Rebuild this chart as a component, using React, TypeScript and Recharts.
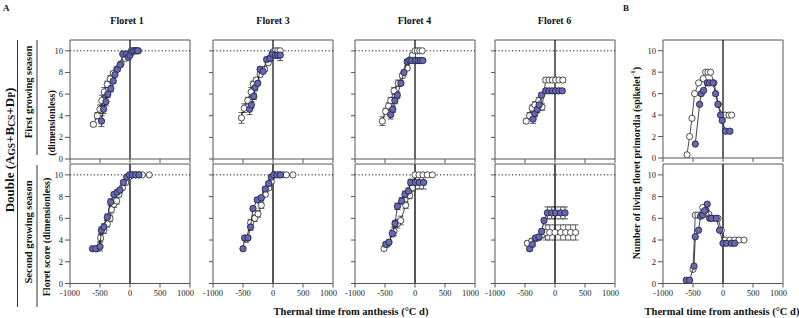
import React from 'react';
import { ScatterChart, Scatter, XAxis, YAxis, ReferenceLine, ErrorBar } from 'recharts';

type Pt = [number, number, number?];

// x: thermal time from anthesis (°C d), y: value, third: error (±)
const f1TopOpen: Pt[] = [[-610,3.2,0.2],[-545,4.0,0.3],[-500,4.6,0.4],[-470,5.4,0.5],[-430,6.2,0.4],[-380,6.9,0.3],[-330,7.4,0.3],[-280,7.9,0.2],[-220,8.3,0.2],[-150,8.8,0.2],[-80,9.3,0.2],[-20,9.7,0.1],[20,10,0],[60,10,0],[100,10,0],[140,10,0]];
const f1TopFilled: Pt[] = [[-475,3.5,0.5],[-440,4.6,0.4],[-400,5.3,0.4],[-370,6.0,0.3],[-320,6.5,0.3],[-280,7.2,0.2],[-250,7.8,0.2],[-210,8.3,0.2],[-165,8.7,0.1],[-120,9.7,0.1],[-60,9.7,0.1],[-30,9.4,0.2],[0,9.6,0.1],[30,9.9,0],[60,10,0],[100,10,0],[130,10,0]];
const f3TopOpen: Pt[] = [[-525,3.8,0.5],[-480,4.7,0.4],[-420,5.4,0.3],[-365,6.2,0.4],[-330,6.9,0.3],[-280,7.3,0.2],[-215,7.8,0.2],[-140,8.3,0.2],[-80,8.9,0.2],[-40,9.3,0.2],[0,9.9,0.2],[40,10,0],[80,10,0.2],[120,10,0]];
const f3TopFilled: Pt[] = [[-390,4.6,0.5],[-360,5.0,0.3],[-320,5.8,0.3],[-300,6.6,0.3],[-255,7.0,0.2],[-215,8.3,0.2],[-165,8.1,0.2],[-105,9.2,0.2],[-50,9.3,0.2],[-15,9.7,0.1],[40,9.6,0.2],[80,9.6,0.3],[120,9.6,0.5]];
const f4TopOpen: Pt[] = [[-545,3.5,0.4],[-490,4.4,0.3],[-440,4.9,0.3],[-405,5.4,0.3],[-350,6.3,0.3],[-280,7.0,0.3],[-210,7.7,0.2],[-130,8.4,0.2],[-75,9.2,0.2],[-40,9.6,0.2],[0,10,0],[40,10,0],[80,10,0],[120,10,0]];
const f4TopFilled: Pt[] = [[-405,4.1,0.4],[-370,4.6,0.3],[-335,5.4,0.3],[-295,5.9,0.3],[-235,7.0,0.2],[-185,8.0,0.2],[-130,9.0,0.2],[-90,9.1,0.2],[-55,9.1,0.1],[5,9.1,0],[50,9.1,0],[90,9.1,0],[130,9.1,0]];
const f6TopOpen: Pt[] = [[-480,3.5,0.2],[-425,4.0,0.3],[-380,4.7,0.3],[-335,5.0,0.3],[-270,5.4,0.3],[-215,4.8,0.3],[-155,7.3,0.2],[-100,7.3,0.2],[-45,7.3,0.2],[10,7.3,0.2],[65,7.3,0.2],[130,7.3,0.2]];
const f6TopFilled: Pt[] = [[-365,3.7,0.4],[-335,4.2,0.3],[-295,4.6,0.3],[-265,5.0,0.3],[-225,5.9,0.2],[-155,6.3,0.2],[-100,6.3,0.2],[-45,6.3,0.2],[10,6.3,0.2],[65,6.3,0.2],[120,6.3,0.2]];

const f1BotOpen: Pt[] = [[-545,3.2,0],[-490,4.2,0.3],[-435,4.9,0.3],[-378,5.5,0.3],[-333,6.0,0.3],[-310,6.8,0.3],[-268,7.3,0.3],[-222,7.6,0.3],[-183,8.2,0.2],[-127,8.8,0.2],[-72,9.3,0.2],[-17,9.8,0.1],[40,10,0],[95,10,0],[150,10,0],[205,10,0],[320,10,0]];
const f1BotFilled: Pt[] = [[-625,3.2,0],[-570,3.2,0],[-500,3.4,0.4],[-478,4.9,0.3],[-435,5.2,0.3],[-378,6.1,0.3],[-322,7.5,0.3],[-268,8.2,0.2],[-212,8.4,0.2],[-168,8.6,0.2],[-110,9.3,0.2],[-55,9.8,0.1],[-10,10,0],[40,10,0],[95,10,0],[150,10,0]];
const f3BotOpen: Pt[] = [[-445,4.1,0.3],[-373,5.6,0.3],[-305,6.0,0.3],[-250,6.4,0.3],[-195,7.2,0.3],[-128,8.2,0.2],[-72,8.8,0.2],[-28,9.4,0.2],[28,10,0],[110,10,0],[170,10,0],[222,10,0],[333,10,0]];
const f3BotFilled: Pt[] = [[-500,3.2,0],[-472,4.2,0.2],[-417,4.2,0.2],[-373,5.2,0.3],[-333,6.9,0.2],[-262,7.7,0.2],[-195,7.9,0.2],[-128,8.7,0.2],[-72,9.2,0.2],[-28,9.8,0.1],[12,10,0],[67,10,0],[122,10,0]];
const f4BotOpen: Pt[] = [[-517,3.2,0],[-460,3.6,0.2],[-350,4.8,0.4],[-293,5.5,0.4],[-238,5.8,0.4],[-155,7.2,0.3],[-88,8.1,0.3],[-45,8.8,0.3],[0,10,0],[67,10,0],[133,10,0],[205,10,0],[289,10,0]];
const f4BotFilled: Pt[] = [[-488,3.6,0.2],[-433,3.8,0.2],[-377,4.6,0.3],[-333,5.5,0.3],[-293,7.1,0.3],[-222,7.6,0.3],[-167,8.2,0.3],[-110,8.5,0.3],[-72,9.3,0.3],[5,9.3,0.6],[72,9.3,0.6],[144,9.3,0.6]];
const f6BotOpen: Pt[] = [[-460,3.7,0.2],[-387,3.9,0.2],[-333,4.1,0.2],[-277,4.2,0.2],[-210,4.5,0.3],[-155,4.7,0.7],[-88,4.7,0.7],[0,4.7,0.7],[95,4.7,0.7],[178,4.7,0.7],[261,4.7,0.7],[344,4.7,0.7]];
const f6BotFilled: Pt[] = [[-422,3.2,0.2],[-377,3.6,0.2],[-322,4.2,0.2],[-267,4.3,0.2],[-222,4.8,0.2],[-183,5.8,0.2],[-127,6.5,0.55],[-55,6.5,0.55],[10,6.5,0.55],[95,6.5,0.55],[167,6.5,0.55]];

const bTopOpen: Pt[] = [[-600,0.3],[-557,2.0],[-517,3.7],[-473,6.0],[-407,7.0],[-330,7.4],[-290,8.0],[-250,8.0],[-207,8.0],[-150,7.0],[-77,5.0],[-20,4.0],[35,4.0],[100,4.0],[145,4.0]];
const bTopFilled: Pt[] = [[-462,1.3],[-390,5.0],[-363,6.0],[-323,6.3],[-263,7.0],[-223,7.0],[-167,7.0],[-123,6.0],[-85,5.0],[-40,4.0],[-13,3.5],[43,2.5],[115,2.5]];
const bBotOpen: Pt[] = [[-500,1.3],[-462,6.3],[-418,6.3],[-337,7.0],[-280,6.7],[-237,6.4],[-167,6.0],[-83,6.0],[-28,4.9],[35,4.0],[115,4.0],[195,4.0],[265,4.0],[350,4.0]];
const bBotFilled: Pt[] = [[-612,0.3],[-557,0.3],[-483,1.6],[-462,4.3],[-407,4.9],[-373,6.2],[-337,6.3],[-307,6.7],[-263,7.3],[-223,6.0],[-195,6.0],[-112,6.0],[-57,4.9],[0,3.7],[57,3.7],[140,3.7],[195,3.7]];

const X_TICKS = [-1000, -500, 0, 500, 1000];
const Y_TICKS = [0, 2, 4, 6, 8, 10];
const FLORET_TITLES = ['Floret 1', 'Floret 3', 'Floret 4', 'Floret 6'];

const FONT = '"Liberation Serif", "Times New Roman", serif';
const FILL = '#6469b0';
const FRAME = '#555';

const toObj = (a: Pt[]) => a.map(([x, y, e]) => ({ x, y, e: e ?? 0 }));

const OpenDot = (p: any) => (
  <circle cx={p.cx} cy={p.cy} r={3.1} fill="#fff" stroke="#222" strokeWidth={0.8} />
);
const FilledDot = (p: any) => (
  <circle cx={p.cx} cy={p.cy} r={3.2} fill={FILL} stroke="#1c1c3c" strokeWidth={0.8} />
);

type PanelProps = {
  left: number; top: number; w: number; h: number;
  open: Pt[]; filled: Pt[];
  yLabels?: boolean; xLabels?: boolean; dotted?: boolean; bottomRow?: boolean; errors?: boolean;
};

function Panel({ left, top, w, h, open, filled, yLabels, xLabels, dotted, bottomRow, errors = true }: PanelProps) {
  const YW = 26, MT = 4, MR = 4;
  const XH = xLabels ? 22 : 6;
  const tickStyle = { fontSize: 8.5, fill: '#222', fontFamily: FONT };
  return (
    <div style={{ position: 'absolute', left: left - YW, top: top - MT }}>
      <ScatterChart width={YW + w + MR} height={MT + h + XH} margin={{ top: MT, right: MR, left: 0, bottom: 0 }}>
        <XAxis type="number" dataKey="x" domain={[-1000, 1000]} ticks={X_TICKS} allowDataOverflow
          height={XH} tickSize={4} tickMargin={2} tick={tickStyle}
          tickFormatter={xLabels ? (v: number) => String(v) : () => ''}
          axisLine={{ stroke: FRAME }} tickLine={{ stroke: FRAME }} />
        <YAxis type="number" dataKey="y" domain={[0, 11]} ticks={Y_TICKS} allowDataOverflow
          width={YW} tickSize={yLabels ? 5 : 4} tickMargin={2} tick={tickStyle}
          tickFormatter={yLabels ? (v: number) => String(v) : () => ''}
          axisLine={{ stroke: FRAME }} tickLine={{ stroke: FRAME }} />
        <ReferenceLine y={11} stroke={FRAME} strokeWidth={1} />
        <ReferenceLine x={1000} stroke={FRAME} strokeWidth={1} />
        {dotted && <ReferenceLine y={10} stroke="#111" strokeWidth={1} strokeDasharray="1.2 2.2" />}
        <ReferenceLine x={0} stroke={bottomRow ? '#444' : '#000'} strokeWidth={bottomRow ? 1.8 : 1.2} />
        <Scatter data={toObj(open)} line={{ stroke: '#222', strokeWidth: 0.8 }} shape={OpenDot} isAnimationActive={false}>
          {errors && <ErrorBar dataKey="e" direction="y" width={3} stroke="#222" strokeWidth={0.7} />}
        </Scatter>
        <Scatter data={toObj(filled)} line={{ stroke: '#111', strokeWidth: 0.8 }} shape={FilledDot} isAnimationActive={false}>
          {errors && <ErrorBar dataKey="e" direction="y" width={3} stroke="#111" strokeWidth={0.7} />}
        </Scatter>
      </ScatterChart>
    </div>
  );
}

const COLS = [70, 213, 354.5, 494.5];
const COL_B = 662.5;
const TOP_ROW = { top: 39.5, h: 119 };
const BOT_ROW = { top: 163.5, h: 119.5 };

const topSets: [Pt[], Pt[]][] = [[f1TopOpen, f1TopFilled], [f3TopOpen, f3TopFilled], [f4TopOpen, f4TopFilled], [f6TopOpen, f6TopFilled]];
const botSets: [Pt[], Pt[]][] = [[f1BotOpen, f1BotFilled], [f3BotOpen, f3BotFilled], [f4BotOpen, f4BotFilled], [f6BotOpen, f6BotFilled]];

function RotText({ x, y, size, children }: { x: number; y: number; size: number; children: React.ReactNode }) {
  return (
    <text transform={`translate(${x},${y}) rotate(-90)`} textAnchor="middle" dominantBaseline="central"
      fontSize={size} fontWeight="bold" fontFamily={FONT} fill="#111">
      {children}
    </text>
  );
}

export default function App() {
  const W = 120;
  return (
    <div style={{ position: 'absolute', left: 0, top: 0, width: 799, height: 318, background: '#fff', overflow: 'hidden' }}>
      <svg width={799} height={318} style={{ position: 'absolute', left: 0, top: 0 }}>
        <text x={3} y={11} fontSize={9} fontWeight="bold" fontFamily={FONT} fill="#111">A</text>
        <text x={623} y={11} fontSize={9} fontWeight="bold" fontFamily={FONT} fill="#111">B</text>
        {FLORET_TITLES.map((t, i) => (
          <text key={t} x={COLS[i] + W / 2 - (i === 0 ? 3 : 0)} y={24} textAnchor="middle" fontSize={10} fontWeight="bold" fontFamily={FONT} fill="#111">{t}</text>
        ))}
        <RotText x={9} y={150} size={13}>
          Double (A<tspan fontSize={9.5} dy={3}>GS</tspan><tspan dy={-3}>+B</tspan><tspan fontSize={9.5} dy={3}>CS</tspan><tspan dy={-3}>+D</tspan><tspan fontSize={9.5} dy={3}>P</tspan><tspan dy={-3}>)</tspan>
        </RotText>
        <line x1={17.5} y1={40} x2={17.5} y2={307} stroke="#333" strokeWidth={1} />
        <RotText x={28} y={92} size={10.5}>First growing season</RotText>
        <RotText x={28} y={232} size={10.5}>Second growing season</RotText>
        <line x1={37} y1={40} x2={37} y2={155} stroke="#333" strokeWidth={1} />
        <line x1={37} y1={165} x2={37} y2={307} stroke="#333" strokeWidth={1} />
        <RotText x={51} y={123} size={10}>(dimensionless)</RotText>
        <RotText x={46} y={237} size={10}>Floret score (dimensionless)</RotText>
        <RotText x={636} y={163} size={10}>
          Number of living floret primordia (spikelet<tspan fontSize={7} dy={-3}>-1</tspan><tspan dy={3}>)</tspan>
        </RotText>
        <text x={351} y={315} textAnchor="middle" fontSize={10.5} fontWeight="bold" fontFamily={FONT} fill="#111">Thermal time from anthesis (°C d)</text>
        <text x={722} y={315} textAnchor="middle" fontSize={10.5} fontWeight="bold" fontFamily={FONT} fill="#111">Thermal time from anthesis (°C d)</text>
      </svg>
      {topSets.map(([o, f], i) => (
        <Panel key={'t' + i} left={COLS[i]} top={TOP_ROW.top} w={W} h={TOP_ROW.h} open={o} filled={f} yLabels={i === 0} dotted />
      ))}
      {botSets.map(([o, f], i) => (
        <Panel key={'b' + i} left={COLS[i]} top={BOT_ROW.top} w={W} h={BOT_ROW.h} open={o} filled={f} yLabels={i === 0} xLabels dotted bottomRow />
      ))}
      <Panel left={COL_B} top={40.3} w={W} h={118} open={bTopOpen} filled={bTopFilled} yLabels errors={false} />
      <Panel left={COL_B} top={BOT_ROW.top} w={W} h={BOT_ROW.h} open={bBotOpen} filled={bBotFilled} yLabels xLabels bottomRow errors={false} />
    </div>
  );
}
